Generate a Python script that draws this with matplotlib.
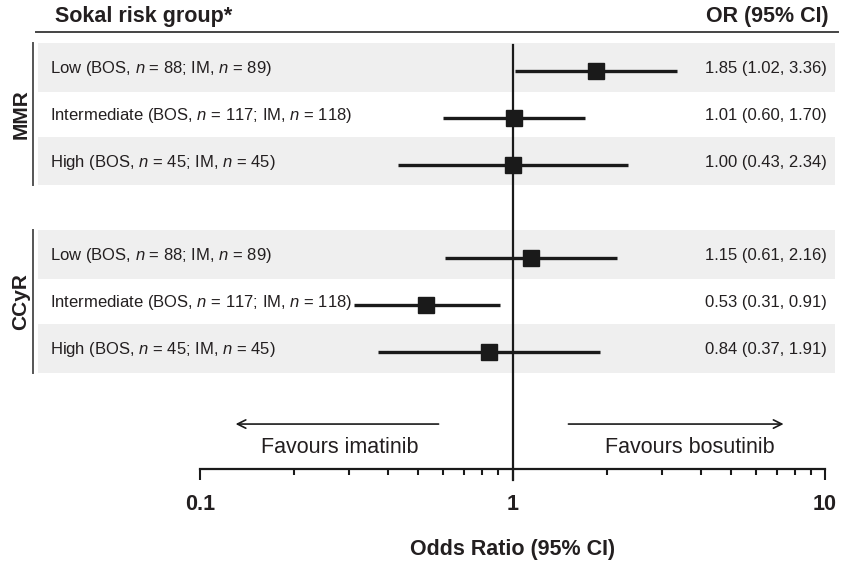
import matplotlib
matplotlib.use("Agg")
import matplotlib.pyplot as plt
import matplotlib.transforms as mtransforms
from matplotlib.patches import Rectangle
from matplotlib.lines import Line2D

plt.rcParams['font.family'] = ['Liberation Sans', 'DejaVu Sans']
plt.rcParams['mathtext.fontset'] = 'custom'
plt.rcParams['mathtext.rm'] = 'Liberation Sans'
plt.rcParams['mathtext.it'] = 'Liberation Sans:italic'

# ---- data ----
groups = ['MMR', 'CCyR']
labels = [
    'Low (BOS, $n$ = 88; IM, $n$ = 89)',
    'Intermediate (BOS, $n$ = 117; IM, $n$ = 118)',
    'High (BOS, $n$ = 45; IM, $n$ = 45)',
    'Low (BOS, $n$ = 88; IM, $n$ = 89)',
    'Intermediate (BOS, $n$ = 117; IM, $n$ = 118)',
    'High (BOS, $n$ = 45; IM, $n$ = 45)',
]
odds = [1.85, 1.01, 1.00, 1.15, 0.53, 0.84]
ci_lo = [1.02, 0.60, 0.43, 0.61, 0.31, 0.37]
ci_hi = [3.36, 1.70, 2.34, 2.16, 0.91, 1.91]

# row layout (row units, top to bottom)
rows = [0, 1, 2, 4, 5, 6]
group_rows = [(0, 2), (4, 6)]
shaded = [0, 2, 3, 5]  # indices of rows with grey band

TXT = '#231f20'
W, H = 843, 562

fig = plt.figure(figsize=(W / 100, H / 100), dpi=100)
ax = fig.add_axes([200 / W, (H - 469) / H, 625 / W, (469 - 32) / H])
ax.set_xscale('log')
ax.set_xlim(0.1, 10)
ax.set_ylim(8.5, -0.833)

figx = mtransforms.blended_transform_factory(fig.transFigure, ax.transData)
px = lambda v: v / W

# grey bands
for i in shaded:
    r = rows[i]
    ax.add_patch(Rectangle((px(38), r - 0.6), px(835 - 38), 1.04,
                           transform=figx, facecolor='#efefef',
                           edgecolor='none', zorder=0, clip_on=False))

# group brackets and labels
for g, (a, b) in zip(groups, group_rows):
    ax.add_line(Line2D([px(33), px(33)], [a - 0.6, b + 0.44], transform=figx,
                       color='#555555', lw=1.4, clip_on=False))
    ax.text(px(21), (a - 0.6 + b + 0.44) / 2, g, transform=figx, rotation=90,
            ha='center', va='center', fontsize=15, fontweight='bold', color=TXT)

# header
ax.add_line(Line2D([px(36), px(838)], [-0.833, -0.833], transform=figx,
                   color='#444444', lw=1.4, clip_on=False))
ax.text(px(55), -1.17, 'Sokal risk group*', transform=figx, ha='left',
        va='center', fontsize=15.5, fontweight='bold', color=TXT)
ax.text(px(829), -1.17, 'OR (95% CI)', transform=figx, ha='right',
        va='center', fontsize=15.5, fontweight='bold', color=TXT)

# reference line at OR = 1
ax.plot([1, 1], [-0.555, 8.73], color='#1a1a1a', lw=1.6, clip_on=False, zorder=3)

# estimates
for r, lab, o, lo, hi in zip(rows, labels, odds, ci_lo, ci_hi):
    ax.plot([lo, hi], [r, r], color='#1a1a1a', lw=2.4, solid_capstyle='butt', zorder=4)
    ax.plot([o], [r], marker='s', markersize=12, color='#1a1a1a', zorder=5)
    ax.text(px(50), r - 0.05, lab, transform=figx, ha='left', va='center',
            fontsize=12, color=TXT)
    ax.text(px(827), r - 0.05, f'{o:.2f} ({lo:.2f}, {hi:.2f})', transform=figx,
            ha='right', va='center', fontsize=12, color=TXT)

# favours arrows
ax.annotate('', xy=(0.13, 7.54), xytext=(0.58, 7.54),
            arrowprops=dict(arrowstyle='->,head_length=0.6,head_width=0.3',
                            color='#1a1a1a', lw=1.2, shrinkA=0, shrinkB=0))
ax.annotate('', xy=(7.37, 7.54), xytext=(1.51, 7.54),
            arrowprops=dict(arrowstyle='->,head_length=0.6,head_width=0.3',
                            color='#1a1a1a', lw=1.2, shrinkA=0, shrinkB=0))
ax.text(0.279, 8.05, 'Favours imatinib', ha='center', va='center',
        fontsize=15.5, color=TXT)
ax.text(3.69, 8.05, 'Favours bosutinib', ha='center', va='center',
        fontsize=15.5, color=TXT)

# axis styling
for s in ['top', 'left', 'right']:
    ax.spines[s].set_visible(False)
ax.spines['bottom'].set_linewidth(1.6)
ax.spines['bottom'].set_color('#1a1a1a')
ax.set_yticks([])
ax.set_xticks([0.1, 1, 10])
ax.set_xticklabels(['0.1', '1', '10'])
ax.tick_params(axis='x', which='major', length=8, width=1.5, pad=10,
               labelsize=15.5, colors='#1a1a1a', labelcolor=TXT)
ax.tick_params(axis='x', which='minor', length=4.3, width=1.5, colors='#1a1a1a')
for t in ax.get_xticklabels():
    t.set_fontweight('bold')
ax.set_xlabel('Odds Ratio (95% CI)', fontsize=15.5, fontweight='bold',
              color=TXT, labelpad=17)
ax.patch.set_visible(False)

fig.savefig('out.png', dpi=100)
